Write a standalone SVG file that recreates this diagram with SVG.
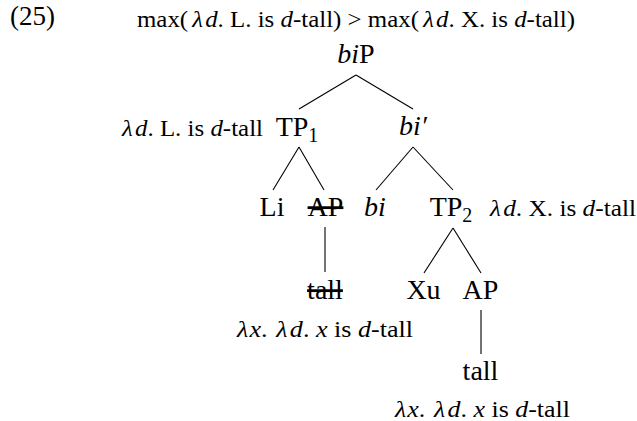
<svg xmlns="http://www.w3.org/2000/svg" width="637" height="421" viewBox="0 0 637 421">
<style>
text{font-family:"Liberation Serif","Times New Roman",serif;fill:#000}
.n{font-size:28px;text-anchor:middle}
.a{font-size:23px}
.i{font-style:italic}
.s{text-decoration:line-through}
.c line{stroke:#000;stroke-width:1.1}
</style>
<rect width="637" height="421" fill="#fff"/>
<g id="label25"><text x="10" y="25" font-size="27">(25)</text></g>
<g id="formula"><text x="137" y="27" font-size="24" textLength="438" lengthAdjust="spacingAndGlyphs">max(<tspan class="i" dx="4">λ</tspan><tspan class="i" dx="2">d</tspan>. L. is <tspan class="i">d</tspan>-tall) &gt; max(<tspan class="i" dx="4">λ</tspan><tspan class="i" dx="2">d</tspan>. X. is <tspan class="i">d</tspan>-tall)</text></g>
<g class="c" id="connectors">
<line x1="356" y1="75" x2="299" y2="109"/>
<line x1="356" y1="75" x2="413" y2="109"/>
<line x1="299" y1="147" x2="273" y2="190"/>
<line x1="299" y1="147" x2="324" y2="190"/>
<line x1="413" y1="147" x2="376" y2="190"/>
<line x1="413" y1="147" x2="453" y2="190"/>
<line x1="325" y1="227" x2="325" y2="272"/>
<line x1="453" y1="228" x2="424" y2="273"/>
<line x1="453" y1="228" x2="481" y2="273"/>
<line x1="481" y1="310" x2="481" y2="354"/>
</g>
<g id="biP"><text class="n" x="356" y="63"><tspan class="i">bi</tspan>P</text></g>
<g id="TP1"><text class="n" x="297" y="136">TP<tspan font-size="20" dy="6">1</tspan></text>
<text class="a" x="122" y="136" textLength="141" lengthAdjust="spacingAndGlyphs"><tspan class="i">λ</tspan><tspan class="i" dx="2">d</tspan>. L. is <tspan class="i">d</tspan>-tall</text></g>
<g id="biBar"><text class="n i" x="413" y="135">bi′</text></g>
<g id="Li"><text class="n" x="272" y="216">Li</text></g>
<g id="AP1"><text class="n s" x="325.5" y="216">AP</text></g>
<g id="bi"><text class="n i" x="375" y="216">bi</text></g>
<g id="TP2"><text class="n" x="451" y="216">TP<tspan font-size="20" dy="6">2</tspan></text>
<text class="a" x="490" y="216" textLength="146" lengthAdjust="spacingAndGlyphs"><tspan class="i">λ</tspan><tspan class="i" dx="2">d</tspan>. X. is <tspan class="i">d</tspan>-tall</text></g>
<g id="tall1"><text class="n s" x="325" y="299">tall</text>
<text class="a" x="237" y="337" textLength="176" lengthAdjust="spacingAndGlyphs"><tspan class="i">λ</tspan><tspan class="i" dx="1">x</tspan>. <tspan class="i" dx="2">λ</tspan><tspan class="i" dx="2">d</tspan>. <tspan class="i">x</tspan> is <tspan class="i">d</tspan>-tall</text></g>
<g id="Xu"><text class="n" x="423.5" y="299">Xu</text></g>
<g id="AP2"><text class="n" x="480.5" y="299">AP</text></g>
<g id="tall2"><text class="n" x="480.5" y="380">tall</text>
<text class="a" x="395" y="417" textLength="175" lengthAdjust="spacingAndGlyphs"><tspan class="i">λ</tspan><tspan class="i" dx="1">x</tspan>. <tspan class="i" dx="2">λ</tspan><tspan class="i" dx="2">d</tspan>. <tspan class="i">x</tspan> is <tspan class="i">d</tspan>-tall</text></g>
</svg>
